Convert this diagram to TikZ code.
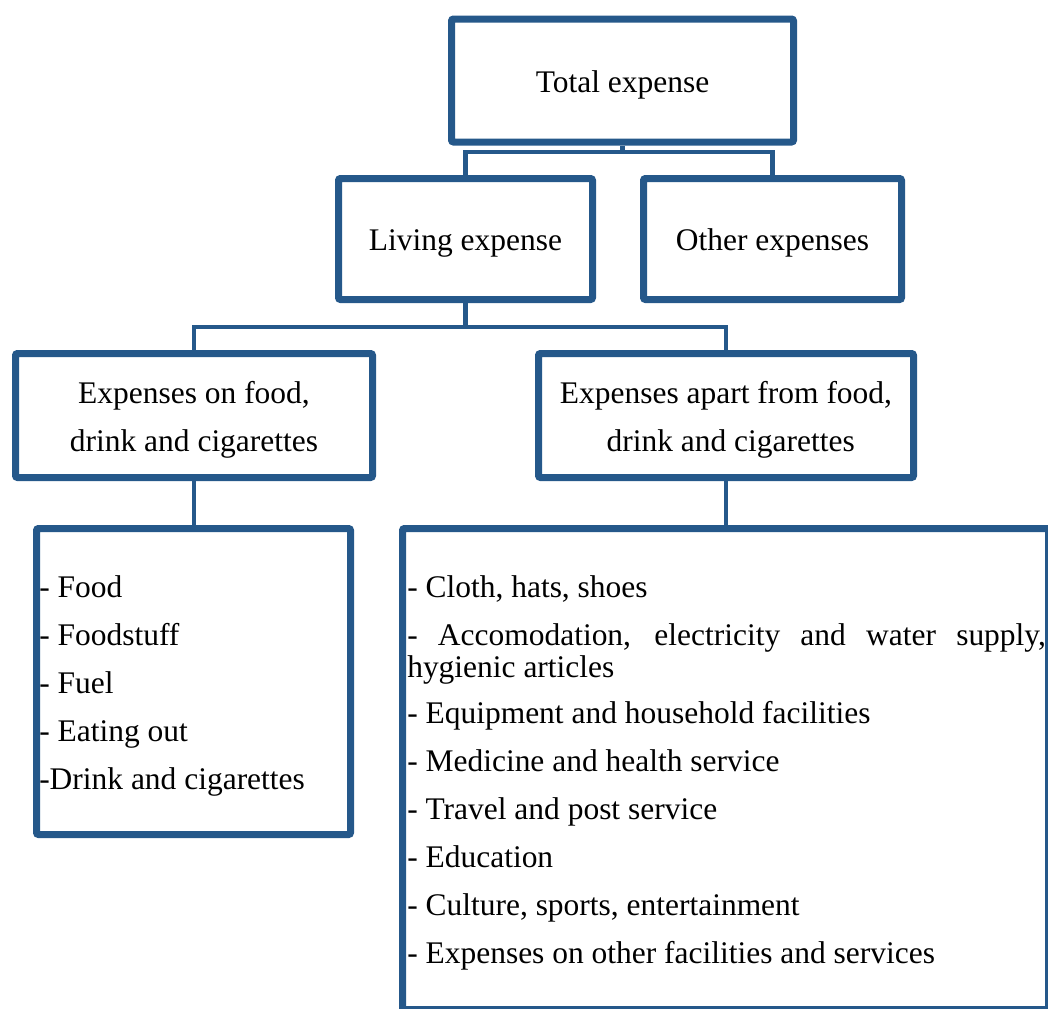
\documentclass[tikz,border=0pt]{standalone}
\usepackage{fontspec}
\setmainfont{Liberation Serif}
\usetikzlibrary{shadows,backgrounds}
\definecolor{boxblue}{RGB}{37,88,138}
\newcommand\mainfs{\fontsize{23.6pt}{36pt}\selectfont}
\begin{document}
\begin{tikzpicture}[x=0.75pt,y=-0.75pt,
  box/.style={draw=boxblue, line width=5.25pt, fill=white, rounded corners=1.5pt,
    inner sep=0pt,
    drop shadow={shadow xshift=1.2pt, shadow yshift=-1.8pt, opacity=0.3}},
  boxtext/.style={inner sep=0pt, align=center, font=\mainfs},
  conn/.style={draw=boxblue, line width=3.6pt},
  item/.style={anchor=base west, inner sep=0pt, font=\mainfs}]
\useasboundingbox (0,0) rectangle (1048,1008);
\clip (0,0) rectangle (1048,1008);
\node[box, minimum width=256.5pt, minimum height=92.25pt] (total) at (622.5,80.5) {};
\node[box, minimum width=190.5pt, minimum height=90.75pt] (living) at (465.5,239) {};
\node[box, minimum width=193.5pt, minimum height=90.75pt] (other) at (772.5,239) {};
\node[box, minimum width=267.75pt, minimum height=93pt] (food) at (194,415.5) {};
\node[box, minimum width=281.25pt, minimum height=93pt] (apart) at (726,415.5) {};
\node[box, minimum width=235.5pt, minimum height=229.5pt] (foodlist) at (193.5,681.5) {};
\node[box, minimum width=484.5pt, minimum height=360.75pt] (otherlist) at (725.5,769) {};
\node[boxtext] (totalt) at ([yshift=-3pt]total.center) {Total expense};
\node[boxtext] (livingt) at ([yshift=-3pt]living.center) {Living expense};
\node[boxtext] (othert) at ([yshift=-3pt]other.center) {Other expenses};
\node[boxtext] (foodt) at ([yshift=-3.5pt]food.center) {Expenses on food,\\drink and cigarettes};
\node[boxtext] (apartt) at ([yshift=-3.5pt]apart.center) {Expenses apart from food,\\\hspace*{7pt}drink and cigarettes};
\coordinate (j1) at (622.5,152);
\coordinate (j2) at (465.5,327);
\begin{scope}[on background layer]
\draw[conn] (total.south) -- (j1);
\draw[conn] (living.north) |- (j1) -| (other.north);
\draw[conn] (living.south) -- (j2);
\draw[conn] (food.north) |- (j2) -| (apart.north);
\draw[conn] (food.south) -- (food.south |- foodlist.north);
\draw[conn] (apart.south) -- (apart.south |- otherlist.north);
\end{scope}
\node[item] (i1) at (39,597) {- Food};
\node[item] (i2) at (39,645) {- Foodstuff};
\node[item] (i3) at (39,693) {- Fuel};
\node[item] (i4) at (39,741) {- Eating out};
\node[item] (i5) at (39,789) {-Drink and cigarettes};
\node[item] (r1) at (407,597) {- Cloth, hats, shoes};
\node[item] (r2) at (407,645) {\makebox[479pt][s]{- Accomodation, electricity and water supply,}};
\node[item] (r2b) at (407,677) {hygienic articles};
\node[item] (r3) at (407,723) {- Equipment and household facilities};
\node[item] (r4) at (407,771) {- Medicine and health service};
\node[item] (r5) at (407,819) {- Travel and post service};
\node[item] (r6) at (407,867) {- Education};
\node[item] (r7) at (407,915) {- Culture, sports, entertainment};
\node[item] (r8) at (407,963) {- Expenses on other facilities and services};
\end{tikzpicture}
\end{document}
